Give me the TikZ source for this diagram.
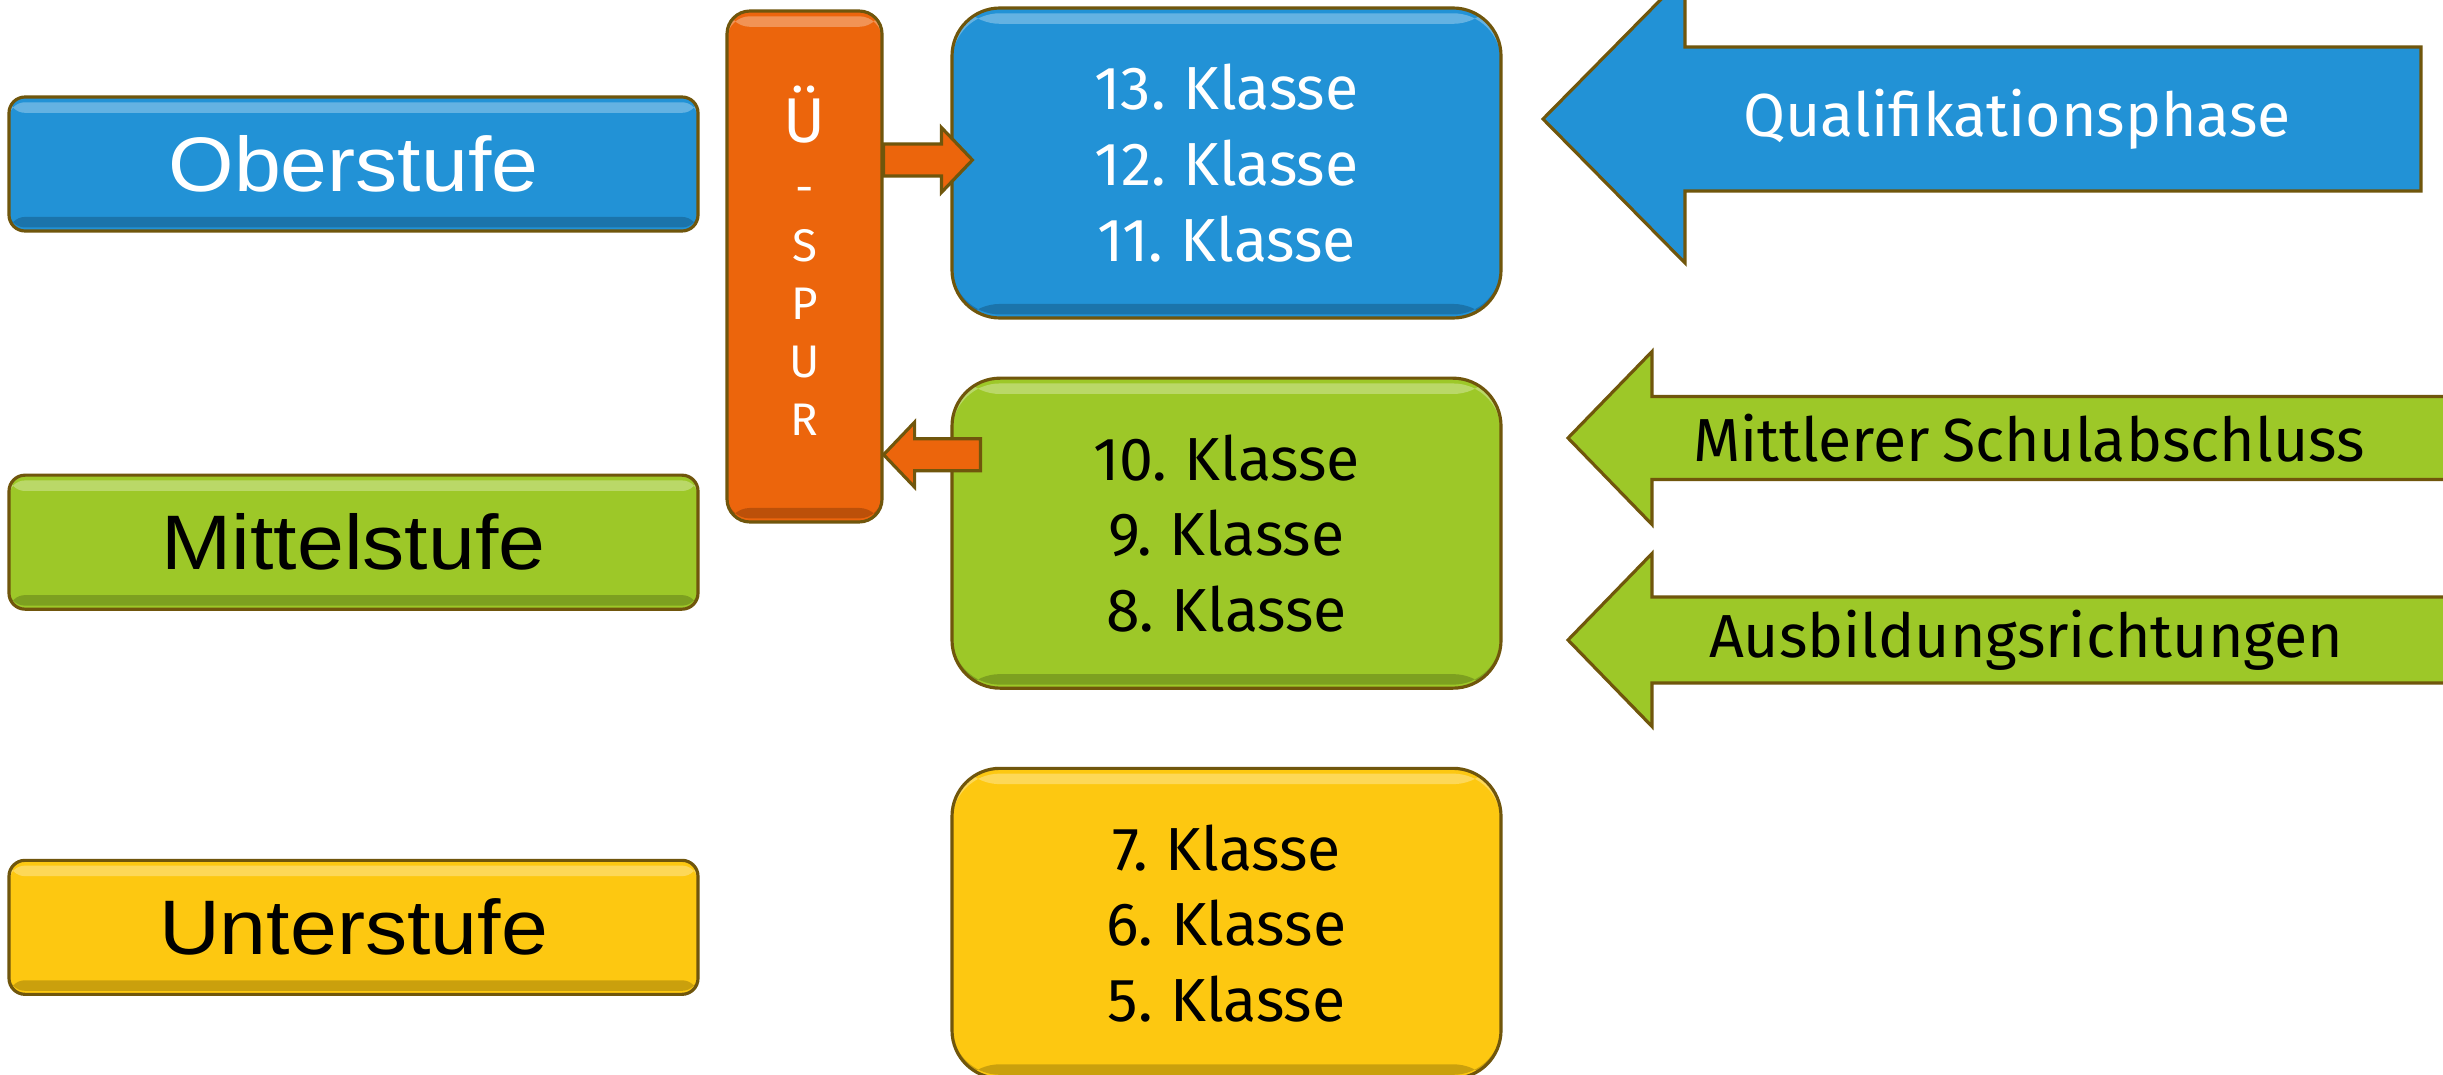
\documentclass[tikz,border=0pt]{standalone}
\usepackage{fontspec}
\setmainfont{Fira Sans}[WordSpace=0.75]
\newfontfamily\stufenfont{Liberation Sans}[FakeStretch=1.09]
\usetikzlibrary{calc,positioning}

\definecolor{obercol}{RGB}{34,146,214}
\definecolor{mittelcol}{RGB}{157,200,40}
\definecolor{untercol}{RGB}{253,200,17}
\definecolor{spurcol}{RGB}{236,101,12}
\definecolor{rimcol}{RGB}{112,86,12}

\tikzset{
  bevel/.style={draw=rimcol, line width=0.9pt,
    path picture={
      \fill[white, opacity=.3] ([yshift=-1.5pt]path picture bounding box.north west)
        rectangle ([yshift=-4.5pt]path picture bounding box.north east);
      \fill[black, opacity=.2] ([yshift=1pt]path picture bounding box.south west)
        rectangle ([yshift=4pt]path picture bounding box.south east);}},
  stufe/.style={bevel, rounded corners=1.6mm, minimum width=6.89cm, minimum height=1.34cm,
    font=\stufenfont\fontsize{22}{22}\selectfont},
  klassen/.style={bevel, rounded corners=4.8mm, minimum width=5.49cm, minimum height=3.1cm,
    align=center, font=\fontsize{17.3}{21.5}\selectfont},
  spurbox/.style={bevel, fill=spurcol, rounded corners=2.3mm, minimum width=1.55cm, minimum height=5.11cm},
  spurtext/.style={anchor=base, text=white, font=\fontsize{13}{13}\selectfont},
  spurarrow/.style={draw=rimcol, line width=0.9pt, fill=spurcol},
  phase/.style={draw=rimcol, line width=0.9pt},
  phasetext/.style={font=\fontsize{17.3}{17.3}\selectfont}
}

% block arrow from #1 to the tip #2 (horizontal)
\newcommand{\spurpfeil}[2]{%
  \draw[spurarrow] let \p1=#1, \p2=#2, \n1={\x2>\x1 ? 1 : -1} in
    (\x1,{\y2+1.6mm}) -- ({\x2-\n1*3.1mm},{\y2+1.6mm}) -- ({\x2-\n1*3.1mm},{\y2+3.25mm})
    -- (\x2,\y2) -- ({\x2-\n1*3.1mm},{\y2-3.25mm}) -- ({\x2-\n1*3.1mm},{\y2-1.6mm})
    -- (\x1,{\y2-1.6mm}) -- cycle;}

% big arrow pointing left: style, tip x, tip y, shaft half, head half, head length, tail x
\newcommand{\phasepfeil}[7]{%
  \draw[#1] (#2,#3) -- ({#2+#6},{#3+#5}) -- ({#2+#6},{#3+#4}) -- (#7,{#3+#4})
    -- (#7,{#3-#4}) -- ({#2+#6},{#3-#4}) -- ({#2+#6},{#3-#5}) -- cycle;}

\begin{document}
\begin{tikzpicture}
  \clip (0,0) rectangle (24.43,-10.74);
  \fill[white] (0,0) rectangle (24.43,-10.74);

  % Stufen links
  \node[stufe, fill=obercol, text=white] (ober) at (3.535,-1.64) {Oberstufe};
  \node[stufe, fill=mittelcol, below=2.41cm of ober] (mittel) {Mittelstufe};
  \node[stufe, fill=untercol, below=2.48cm of mittel] (unter) {Unterstufe};

  % Klassen
  \node[klassen, fill=obercol, text=white] (oberK) at (12.265,-1.63)
    {13. Klasse\\12. Klasse\\11. Klasse};
  \node[klassen, fill=mittelcol, below=0.57cm of oberK] (mittelK)
    {10. Klasse\\9. Klasse\\8. Klasse};
  \node[klassen, fill=untercol, below=0.77cm of mittelK] (unterK)
    {7. Klasse\\6. Klasse\\5. Klasse};

  % Ue-Spur
  \node[spurbox] (spur) at (8.045,-2.665) {};
  \node[spurtext, font=\fontsize{18}{18}\selectfont] (spurU) at (8.045,-1.43) {Ü};
  \node[spurtext] (spurD) at (8.045,-2.03) {-};
  \foreach \ch [count=\i] in {S,P,U,R}
    \node[spurtext] (spur\i) at (8.045,{-2.61-0.58*(\i-1)}) {\ch};

  \coordinate (auf) at ($(oberK.west)+(0.22,0.03)$);
  \coordinate (ab) at ($(mittelK.west)+(0.3,0.785)$);
  \spurpfeil{(spur.east |- auf)}{(auf)}
  \spurpfeil{(ab)}{(spur.east |- ab)}

  % Abschluesse rechts
  \phasepfeil{phase, fill=obercol}{15.43}{-1.19}{0.72}{1.44}{1.42}{24.21}
  \node[phasetext, text=white] (quali) at (20.17,-1.19) {Qualifikationsphase};
  \phasepfeil{phase, fill=mittelcol}{15.68}{-4.38}{0.415}{0.865}{0.84}{24.6}
  \node[phasetext] (msa) at (20.29,-4.38) {Mittlerer Schulabschluss};
  \phasepfeil{phase, fill=mittelcol}{15.68}{-6.40}{0.43}{0.865}{0.84}{24.6}
  \node[phasetext] (ausb) at (20.26,-6.40) {Ausbildungsrichtungen};
\end{tikzpicture}
\end{document}
